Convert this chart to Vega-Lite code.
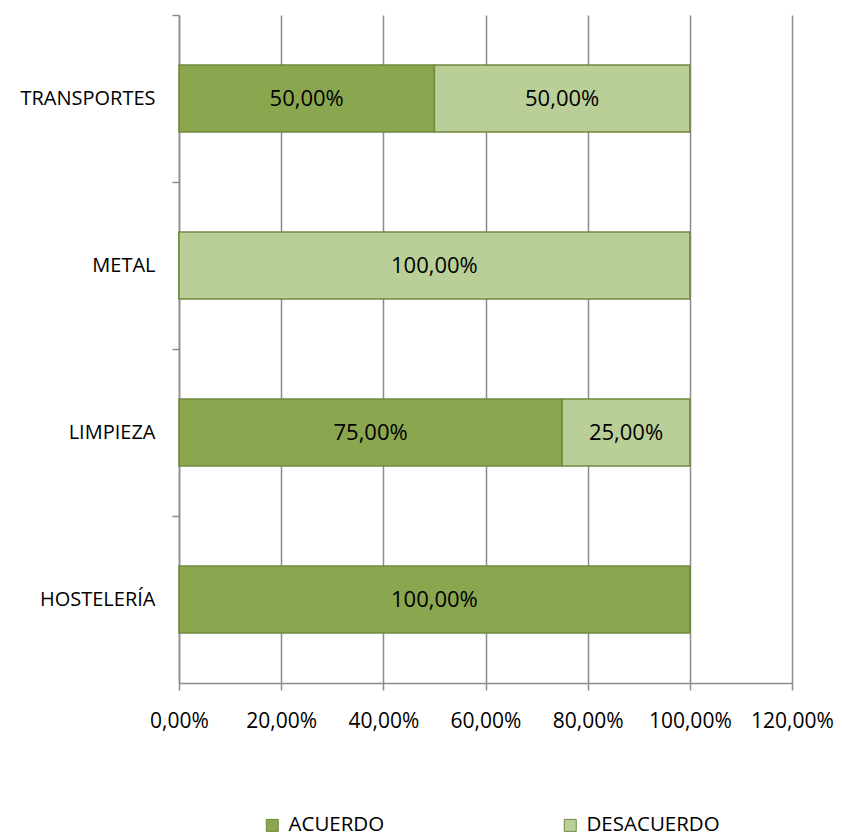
{
  "$schema": "https://vega.github.io/schema/vega-lite/v6.json",
  "width": 613,
  "height": 668,
  "autosize": "none",
  "padding": {"left": 179, "top": 15, "right": 50, "bottom": 154},
  "background": "white",
  "config": {
    "locale": {"number": {"decimal": ",", "thousands": ".", "grouping": [3], "currency": ["", " €"]}},
    "font": "Open Sans",
    "view": {"stroke": null},
    "scale": {"bandPaddingInner": 0.6, "bandPaddingOuter": 0.3},
    "axis": {"labelFont": "Open Sans", "labelFontSize": 20, "labelColor": "#000000", "domainColor": "#8c8c8c", "tickColor": "#8c8c8c", "gridColor": "#8c8c8c", "domainWidth": 1.5, "tickWidth": 1.5, "gridWidth": 1.5}
  },
  "data": {
    "values": [
      {"sector": "TRANSPORTES", "opinion": "ACUERDO", "value": 0.5},
      {"sector": "TRANSPORTES", "opinion": "DESACUERDO", "value": 0.5},
      {"sector": "METAL", "opinion": "ACUERDO", "value": 0.0},
      {"sector": "METAL", "opinion": "DESACUERDO", "value": 1.0},
      {"sector": "LIMPIEZA", "opinion": "ACUERDO", "value": 0.75},
      {"sector": "LIMPIEZA", "opinion": "DESACUERDO", "value": 0.25},
      {"sector": "HOSTELERÍA", "opinion": "ACUERDO", "value": 1.0},
      {"sector": "HOSTELERÍA", "opinion": "DESACUERDO", "value": 0.0}
    ]
  },
  "transform": [
    {"calculate": "datum.opinion === 'ACUERDO' ? 0 : 1", "as": "ord"},
    {"stack": "value", "groupby": ["sector"], "sort": [{"field": "ord", "order": "ascending"}], "as": ["x0", "x1"]},
    {"calculate": "(datum.x0 + datum.x1) / 2", "as": "xmid"}
  ],
  "encoding": {
    "y": {
      "field": "sector", "type": "nominal",
      "sort": ["TRANSPORTES", "METAL", "LIMPIEZA", "HOSTELERÍA"],
      "axis": {"title": null, "orient": "left", "ticks": true, "tickSize": 7, "tickOffset": -83.5, "labelOffset": 83.5, "domain": true, "labelPadding": 17, "labelFontSize": 20}
    }
  },
  "layer": [
    {
      "mark": {"type": "bar", "stroke": "#71893f", "strokeWidth": 1.5},
      "encoding": {
        "x": {
          "field": "x0", "type": "quantitative",
          "scale": {"domain": [0, 1.2], "nice": false},
          "axis": {"title": null, "format": ".2%", "values": [0, 0.2, 0.4, 0.6, 0.8, 1.0, 1.2], "grid": true, "tickSize": 7, "labelPadding": 20, "labelOverlap": false, "labelFlush": false, "labelFontSize": 21}
        },
        "x2": {"field": "x1"},
        "color": {
          "field": "opinion", "type": "nominal",
          "scale": {"domain": ["ACUERDO", "DESACUERDO"], "range": ["#8aa64e", "#bacf98"]},
          "legend": {
            "title": null, "orient": "none", "direction": "horizontal", "columns": 2,
            "legendX": 83, "legendY": 800,
            "symbolType": "square", "symbolSize": 144, "symbolStrokeColor": "#71893f", "symbolStrokeWidth": 1,
            "labelFont": "Open Sans", "labelFontSize": 20.5, "labelColor": "#000000", "labelOffset": 6,
            "columnPadding": 175
          }
        },
        "order": {"field": "ord"}
      }
    },
    {
      "transform": [{"filter": "datum.value > 0"}],
      "mark": {"type": "text", "font": "Open Sans", "fontSize": 22, "color": "#000000", "align": "center", "baseline": "middle"},
      "encoding": {
        "x": {"field": "xmid", "type": "quantitative", "scale": {"domain": [0, 1.2], "nice": false}},
        "text": {"field": "value", "type": "quantitative", "format": ".2%"}
      }
    }
  ]
}
